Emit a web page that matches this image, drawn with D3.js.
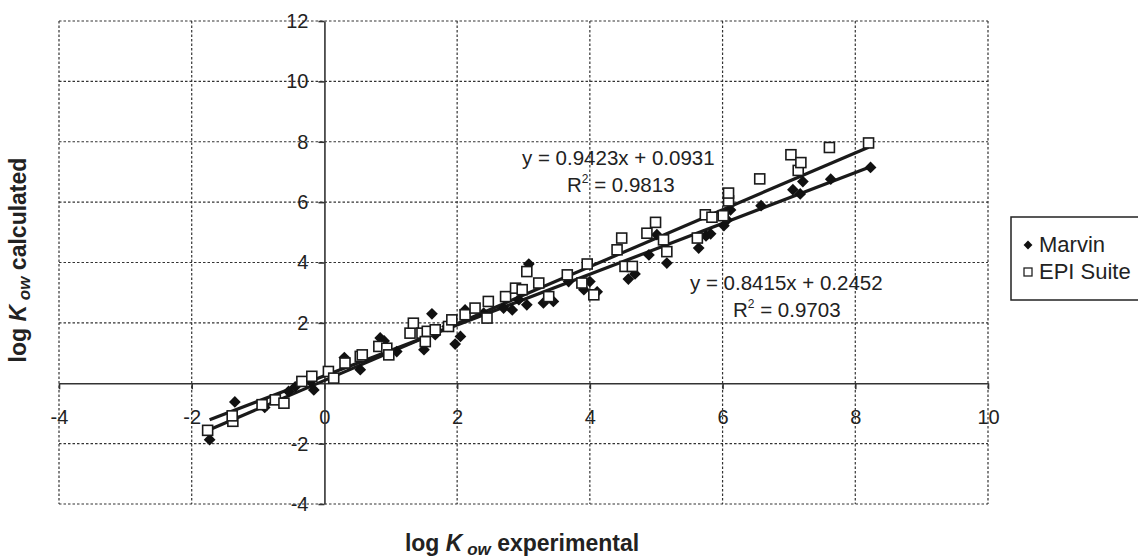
<!DOCTYPE html>
<html>
<head>
<meta charset="utf-8">
<script src="https://cdn.jsdelivr.net/npm/d3@7"></script>
<style>
  body { margin: 0; background: #fff; }
  text { font-family: "Liberation Sans", Arial, sans-serif; fill: #222; }
</style>
</head>
<body>
<svg id="chart" width="1138" height="559"></svg>
<script>
// log Kow experimental vs calculated
const marvin = [
  [-1.73,-1.87], [-1.35,-0.62], [-0.90,-0.80], [-0.54,-0.27], [-0.44,-0.12], [-0.16,-0.22],
  [-0.21,0.06], [0.30,0.85], [0.54,0.45], [0.84,1.50], [0.90,1.40], [1.09,1.05],
  [1.50,1.11], [1.62,2.30], [1.67,1.61], [1.85,1.88], [1.97,1.30], [2.05,1.55],
  [2.12,2.43], [2.40,2.32], [2.70,2.49], [2.83,2.43], [3.05,2.60], [3.08,3.95],
  [2.93,2.77], [3.30,2.66], [3.45,2.71], [3.68,3.37], [3.91,3.10], [4.00,3.37],
  [4.11,3.03], [4.58,3.45], [4.68,3.62], [4.89,4.25], [5.01,4.92], [5.16,3.98],
  [5.64,4.48], [5.75,4.88], [5.82,4.95], [6.02,5.22], [6.07,5.41], [6.12,5.74],
  [6.58,5.88], [7.06,6.41], [7.17,6.27], [7.21,6.68], [7.63,6.76], [8.23,7.15]
];
const epi = [
  [-1.76,-1.56], [-1.38,-1.26], [-1.39,-1.08], [-0.94,-0.71], [-0.74,-0.55], [-0.61,-0.66],
  [-0.34,0.06], [-0.19,0.23], [0.06,0.39], [0.14,0.17], [0.31,0.67], [0.54,0.89],
  [0.57,0.94], [0.82,1.22], [0.94,1.16], [0.97,0.94], [1.29,1.66], [1.34,1.99],
  [1.47,1.66], [1.52,1.38], [1.55,1.72], [1.67,1.77], [1.87,1.88], [1.92,2.10],
  [2.12,2.27], [2.27,2.49], [2.45,2.16], [2.47,2.71], [2.73,2.87], [2.88,3.15],
  [2.98,3.10], [3.05,3.70], [3.23,3.32], [3.38,2.87], [3.66,3.59], [3.88,3.32],
  [3.96,3.95], [4.06,2.93], [4.41,4.42], [4.48,4.81], [4.53,3.87], [4.64,3.87],
  [4.86,4.97], [4.99,5.33], [5.11,4.75], [5.16,4.36], [5.62,4.81], [5.74,5.58],
  [5.84,5.50], [6.01,5.55], [6.09,6.04], [6.09,6.30], [6.56,6.77], [7.03,7.57],
  [7.14,7.05], [7.18,7.31], [7.61,7.81], [8.20,7.96]
];
const xTicks = [-4, -2, 0, 2, 4, 6, 8, 10];
const yTicks = [-4, -2, 0, 2, 4, 6, 8, 10, 12];
const seriesNames = ["Marvin", "EPI Suite"];
const slopes = [0.8415, 0.9423];
const intercepts = [0.2452, 0.0931];
const r2Values = ["0.9703", "0.9813"];

const svg = d3.select("#chart");
const plot = { left: 59, right: 988, top: 21, bottom: 504 };

const x = d3.scaleLinear().domain([-4, 10]).range([plot.left, plot.right]);
const y = d3.scaleLinear().domain([-4, 12]).range([plot.bottom, plot.top]);

// dotted grid (also forms the outer frame)
const grid = svg.append("g").attr("stroke", "#333").attr("stroke-width", 1.2)
  .attr("stroke-dasharray", "2.5,2");
grid.selectAll(".gx").data(xTicks.filter(d => d !== 0)).join("line")
  .attr("x1", d => x(d)).attr("x2", d => x(d))
  .attr("y1", y(12)).attr("y2", y(-4));
grid.selectAll(".gy").data(yTicks.filter(d => d !== 0)).join("line")
  .attr("y1", d => y(d)).attr("y2", d => y(d))
  .attr("x1", x(-4)).attr("x2", x(10));

// axes crossing at zero
const fmt = d => String(d);
const xAxis = svg.append("g")
  .attr("transform", `translate(0,${y(0)})`)
  .call(d3.axisBottom(x).tickValues(xTicks).tickFormat(fmt)
    .tickSize(6).tickSizeOuter(0).tickPadding(21));
const yAxis = svg.append("g")
  .attr("transform", `translate(${x(0)},0)`)
  .call(d3.axisLeft(y).tickValues(yTicks.filter(d => d !== 0)).tickFormat(fmt)
    .tickSize(6).tickSizeOuter(0).tickPadding(10));
[xAxis, yAxis].forEach(a => {
  a.selectAll("path, line").attr("stroke", "#333").attr("stroke-width", 1.6);
  a.selectAll("text").attr("font-size", 20).attr("fill", "#222")
    .style("font-family", '"Liberation Sans", Arial, sans-serif');
});

// trend lines
const series = [marvin, epi];
series.forEach((data, i) => {
  const ext = d3.extent(data, d => d[0]);
  svg.append("line")
    .attr("x1", x(ext[0])).attr("y1", y(slopes[i] * ext[0] + intercepts[i]))
    .attr("x2", x(ext[1])).attr("y2", y(slopes[i] * ext[1] + intercepts[i]))
    .attr("stroke", "#1a1a1a").attr("stroke-width", 3.2);
});

// markers
const diamond = d3.symbol().type(d3.symbolDiamond2).size(88);
svg.append("g").selectAll("path").data(marvin).join("path")
  .attr("d", diamond)
  .attr("transform", d => `translate(${x(d[0])},${y(d[1])})`)
  .attr("fill", "#111");
svg.append("g").selectAll("rect").data(epi).join("rect")
  .attr("x", d => x(d[0]) - 5).attr("y", d => y(d[1]) - 5)
  .attr("width", 10).attr("height", 10)
  .attr("fill", "#fff").attr("stroke", "#1a1a1a").attr("stroke-width", 1.6);

// regression labels
function equation(i, ex, ey) {
  svg.append("text").attr("x", ex).attr("y", ey).attr("font-size", 20.5)
    .text(`y = ${slopes[i]}x + ${intercepts[i].toFixed(4)}`);
}
function rsq(i, rx, ry) {
  const t = svg.append("text").attr("x", rx).attr("y", ry).attr("font-size", 20.5);
  t.append("tspan").text("R");
  t.append("tspan").attr("font-size", 12).attr("dy", -9).text("2");
  t.append("tspan").attr("dy", 9).text(" = " + r2Values[i]);
}
equation(1, 522, 165);
rsq(1, 567, 192);
equation(0, 690, 290);
rsq(0, 733, 317);

// axis titles
const xt = svg.append("text").attr("x", 522).attr("y", 551)
  .attr("text-anchor", "middle").attr("font-size", 23).attr("font-weight", "bold");
xt.append("tspan").text("log ");
xt.append("tspan").attr("font-style", "italic").text("K");
xt.append("tspan").attr("font-style", "italic").attr("font-size", 17).attr("dy", 4).text(" ow");
xt.append("tspan").attr("dy", -4).text(" experimental");

const yt = svg.append("text").attr("transform", "translate(26,260) rotate(-90)")
  .attr("text-anchor", "middle").attr("font-size", 23).attr("font-weight", "bold");
yt.append("tspan").text("log ");
yt.append("tspan").attr("font-style", "italic").text("K");
yt.append("tspan").attr("font-style", "italic").attr("font-size", 17).attr("dy", 4).text(" ow");
yt.append("tspan").attr("dy", -4).text(" calculated");

// legend
const lg = svg.append("g").attr("transform", "translate(1011,217)");
lg.append("rect").attr("width", 140).attr("height", 83)
  .attr("fill", "#fff").attr("stroke", "#222").attr("stroke-width", 1.5);
lg.append("path").attr("d", d3.symbol().type(d3.symbolDiamond2).size(50))
  .attr("transform", "translate(17,28)").attr("fill", "#111");
lg.append("rect").attr("x", 13).attr("y", 51).attr("width", 8).attr("height", 8)
  .attr("fill", "#fff").attr("stroke", "#222").attr("stroke-width", 1.3);
lg.selectAll(".lt").data(seriesNames).join("text")
  .attr("x", 28).attr("y", (d, i) => 35 + i * 27)
  .attr("font-size", 22).text(d => d);
</script>
</body>
</html>
